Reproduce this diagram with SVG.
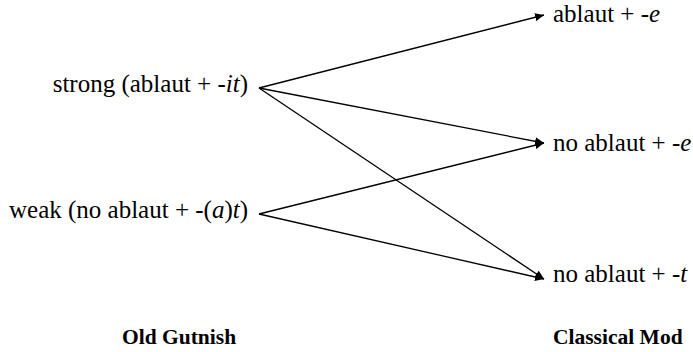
<svg xmlns="http://www.w3.org/2000/svg" width="693" height="352" viewBox="0 0 693 352">
  <style>
    text { font-family: 'Liberation Serif', Tinos, 'Times New Roman', 'DejaVu Serif', serif; fill: #000; }
    .lbl { font-size: 25px; }
    .ttl { font-size: 21.5px; font-weight: bold; }
    .edge { stroke: #000; stroke-width: 1.3; fill: none; marker-end: url(#arrow); }
  </style>
  <defs>
    <marker id="arrow" markerUnits="userSpaceOnUse" markerWidth="10" markerHeight="8" refX="9" refY="4" orient="auto">
      <path d="M0,0 L9,4 L0,8 Z" fill="#000"/>
    </marker>
  </defs>
  <rect width="693" height="352" fill="#fff"/>

  <!-- connectors -->
  <g id="connectors">
    <line class="edge" x1="259" y1="88" x2="544" y2="15"/>
    <line class="edge" x1="259" y1="88" x2="544" y2="143"/>
    <line class="edge" x1="259" y1="88" x2="544" y2="279"/>
    <line class="edge" x1="259" y1="214" x2="544" y2="143"/>
    <line class="edge" x1="259" y1="214" x2="544" y2="279"/>
  </g>

  <!-- source forms -->
  <g id="strong">
    <text class="lbl" x="248" y="92" text-anchor="end">strong (ablaut + -<tspan font-style="italic">it</tspan>)</text>
  </g>
  <g id="weak">
    <text class="lbl" x="248" y="218" text-anchor="end">weak (no ablaut + -(<tspan font-style="italic">a</tspan>)<tspan font-style="italic">t</tspan>)</text>
  </g>

  <!-- target forms -->
  <g id="ablaut-e">
    <text class="lbl" x="553" y="22">ablaut + -<tspan font-style="italic">e</tspan></text>
  </g>
  <g id="noablaut-e">
    <text class="lbl" x="553" y="151">no ablaut + -<tspan font-style="italic">e</tspan></text>
  </g>
  <g id="noablaut-t">
    <text class="lbl" x="553" y="282">no ablaut + -<tspan font-style="italic">t</tspan></text>
  </g>

  <!-- column headings -->
  <g id="heading-left">
    <text class="ttl" x="122" y="344">Old Gutnish</text>
  </g>
  <g id="heading-right">
    <text class="ttl" x="553" y="344">Classical Mod</text>
  </g>
</svg>
